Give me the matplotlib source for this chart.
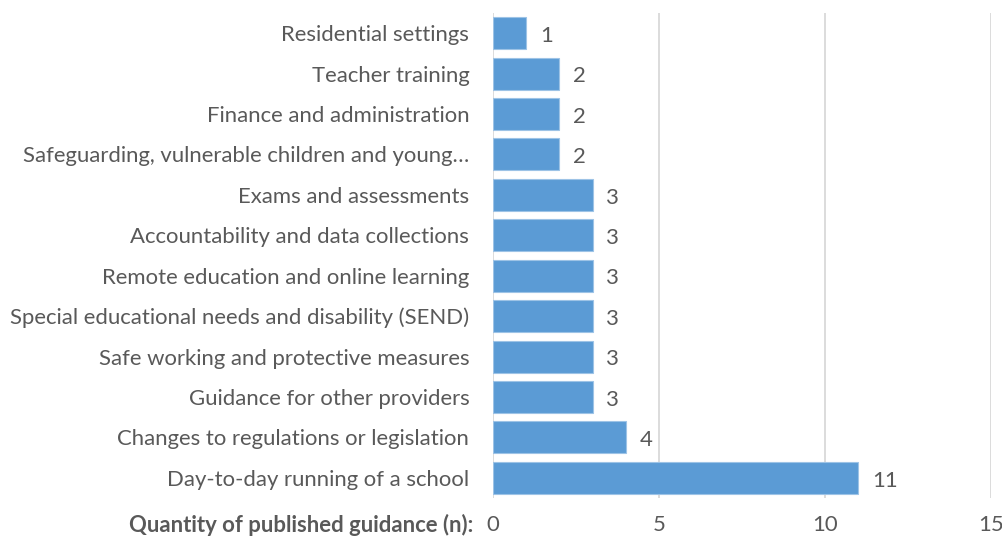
import matplotlib.pyplot as plt

categories = [
    "Residential settings",
    "Teacher training",
    "Finance and administration",
    "Safeguarding, vulnerable children and young\u2026",
    "Exams and assessments",
    "Accountability and data collections",
    "Remote education and online learning",
    "Special educational needs and disability (SEND)",
    "Safe working and protective measures",
    "Guidance for other providers",
    "Changes to regulations or legislation",
    "Day-to-day running of a school",
]
counts = [1, 2, 2, 2, 3, 3, 3, 3, 3, 3, 4, 11]
xticks = [0, 5, 10, 15]

TEXT = "#595959"
FS = 15.9
plt.rcParams["font.family"] = ["Lato", "DejaVu Sans"]

fig = plt.figure(figsize=(10.03, 5.39), dpi=100)
ax = fig.add_axes([0.4915, 0.076, 0.4965, 0.9])

pos = list(range(len(categories)))
ax.barh(pos, counts, height=0.79, color="#5b9bd5", edgecolor="#9dc3e6", linewidth=0.8, zorder=3)

for y, v in zip(pos, counts):
    ax.annotate(str(v), (v, y), xytext=(10, -2), textcoords="offset points",
                ha="left", va="center", fontsize=FS, color=TEXT)

ax.set_xlim(0, 15)
ax.set_ylim(11.5, -0.5)
ax.set_xticks(xticks)
ax.set_yticks(pos)
ax.set_yticklabels(categories)
ax.grid(axis="x", color="#d9d9d9", linewidth=1.3, zorder=0)
for s in ax.spines.values():
    s.set_visible(False)
ax.tick_params(axis="both", length=0, labelsize=FS, labelcolor=TEXT)
ax.tick_params(axis="y", pad=17)
ax.tick_params(axis="x", pad=12)

ax.text(-0.04, -0.070, "Quantity of published guidance (n):", transform=ax.transAxes,
        ha="right", va="baseline", fontsize=FS, fontweight="bold", color=TEXT)

fig.savefig("out.png", dpi=100)
